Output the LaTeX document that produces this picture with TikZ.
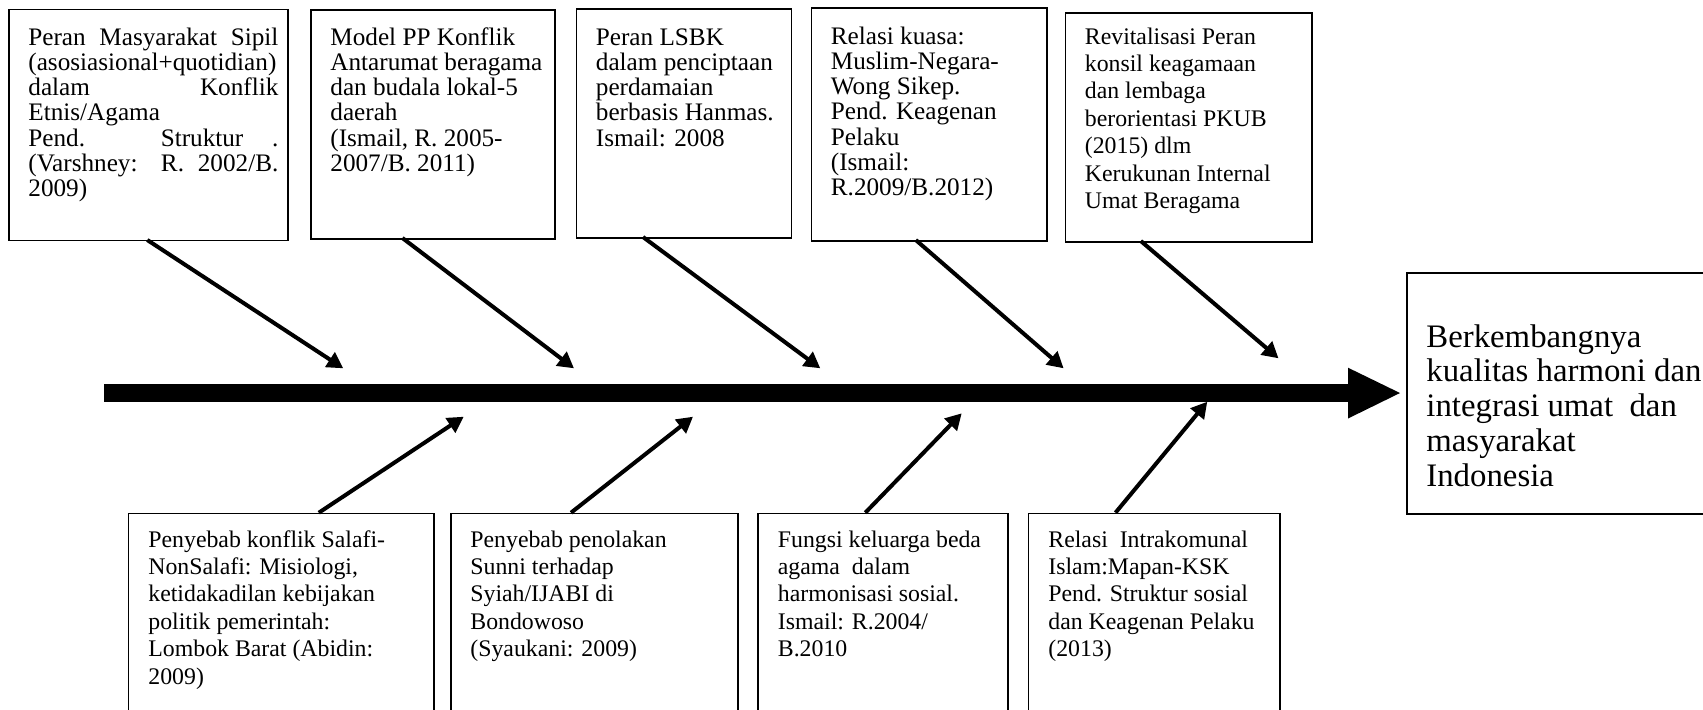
\documentclass[tikz,border=0pt]{standalone}
\usepackage{fontspec}
\setmainfont{Liberation Serif}
\usetikzlibrary{arrows.meta}
\begin{document}
\begin{tikzpicture}[x=0.5pt,y=-0.5pt,
  box/.style={draw=black, line width=0.75pt, fill=white, inner sep=0pt, anchor=north west},
  txt/.style={anchor=base west, inner sep=0pt},
  fish/.style={line width=2pt, -{Triangle[length=8pt,width=8.5pt]}},
  spine/.style={line width=8.8pt},
  tfont/.style={font=\fontsize{12.6}{12.65}\selectfont},
  bfont/.style={font=\fontsize{11.9}{13.7}\selectfont},
  rfont/.style={font=\fontsize{16.4}{17.4}\selectfont},
]
\useasboundingbox (0,0) rectangle (1703,709);
% top boxes
\node[box, minimum width=139.5pt, minimum height=115.5pt] (b1) at (8.3,8.5) {};
\node[box, minimum width=122pt, minimum height=114.5pt] (b2) at (310,9) {};
\node[box, minimum width=107.5pt, minimum height=114.5pt] (b3) at (575.5,8) {};
\node[box, minimum width=117.75pt, minimum height=116.5pt] (b4) at (810.5,7) {};
\node[box, minimum width=123.25pt, minimum height=114.5pt] (b5) at (1064.5,12) {};
% right box
\node[box, minimum width=160pt, minimum height=120.5pt] (rb) at (1406,272) {};
% bottom boxes
\node[box, minimum width=152.8pt, minimum height=110pt] (c1) at (127.5,512.7) {};
\node[box, minimum width=143.3pt, minimum height=110pt] (c2) at (450.4,512.7) {};
\node[box, minimum width=125pt, minimum height=110pt] (c3) at (757,512.7) {};
\node[box, minimum width=125.75pt, minimum height=110pt] (c4) at (1027.5,512.7) {};

% texts
\node[txt, tfont] (t1) at (28,45) {\parbox[t]{125pt}{%
\makebox[\linewidth][s]{Peran Masyarakat Sipil}\\
(asosiasional+quotidian)\\
\makebox[\linewidth][s]{dalam Konflik}\\
Etnis/Agama\\
\makebox[\linewidth][s]{Pend. Struktur .}\\
\makebox[\linewidth][s]{(Varshney: R. 2002/B.}\\
2009)}};
\node[txt, tfont] (t2) at (330,45) {\parbox[t]{115pt}{%
Model PP Konflik\\
Antarumat beragama\\
dan budala lokal-5\\
daerah\\
(Ismail, R. 2005-\\
2007/B. 2011)}};
\node[txt, tfont] (t3) at (595.5,45) {\parbox[t]{100pt}{%
Peran LSBK\\
dalam penciptaan\\
perdamaian\\
berbasis Hanmas.\\
Ismail: 2008}};
\node[txt, tfont] (t4) at (830.5,44) {\parbox[t]{110pt}{%
Relasi kuasa:\\
Muslim-Negara-\\
Wong Sikep.\\
Pend. Keagenan\\
Pelaku\\
(Ismail:\\
R.2009/B.2012)}};
\node[txt, bfont] (t5) at (1084.5,44) {\parbox[t]{110pt}{%
Revitalisasi Peran\\
konsil keagamaan\\
dan lembaga\\
berorientasi PKUB\\
(2015) dlm\\
Kerukunan Internal\\
Umat Beragama}};
\node[txt, rfont] (tr) at (1426,347) {\parbox[t]{150pt}{%
Berkembangnya\\
kualitas harmoni dan\\
integrasi umat\ \ dan\\
masyarakat\\
Indonesia}};
\node[txt, bfont] (u1) at (148,547) {\parbox[t]{140pt}{%
Penyebab konflik Salafi-\\
NonSalafi: Misiologi,\\
ketidakadilan kebijakan\\
politik pemerintah:\\
Lombok Barat (Abidin:\\
2009)}};
\node[txt, bfont] (u2) at (470,547) {\parbox[t]{130pt}{%
Penyebab penolakan\\
Sunni terhadap\\
Syiah/IJABI di\\
Bondowoso\\
(Syaukani: 2009)}};
\node[txt, bfont] (u3) at (777.5,547) {\parbox[t]{115pt}{%
Fungsi keluarga beda\\
agama\ \ dalam\\
harmonisasi sosial.\\
Ismail: R.2004/\\
B.2010}};
\node[txt, bfont] (u4) at (1048,547) {\parbox[t]{115pt}{%
Relasi\ \ Intrakomunal\\
Islam:Mapan-KSK\\
Pend. Struktur sosial\\
dan Keagenan Pelaku\\
(2013)}};

% spine
\coordinate (sp0) at (104,393);
\coordinate (sp1) at (1349,393);
\coordinate (spT) at (1400,393);
\draw[spine] (sp0) -- (sp1);
\fill (1348,367.7) -- (spT) -- (1348,418.5) -- cycle;

% top arrows
\coordinate (s1) at (147.3,240);  \coordinate (e1) at (343.3,368.3);
\coordinate (s2) at (402.4,238);  \coordinate (e2) at (574,368.3);
\coordinate (s3) at (643,237);    \coordinate (e3) at (820.3,368.3);
\coordinate (s4) at (915.8,240);  \coordinate (e4) at (1063.6,368.3);
\coordinate (s5) at (1140.8,241); \coordinate (e5) at (1278.5,358.3);
\draw[fish] (s1) -- (e1);
\draw[fish] (s2) -- (e2);
\draw[fish] (s3) -- (e3);
\draw[fish] (s4) -- (e4);
\draw[fish] (s5) -- (e5);
% bottom arrows
\coordinate (f1) at (318.8,512.7);  \coordinate (g1) at (463.7,416.7);
\coordinate (f2) at (571,512.7);    \coordinate (g2) at (693,416.7);
\coordinate (f3) at (865.3,512.7);  \coordinate (g3) at (961.7,413.3);
\coordinate (f4) at (1115.5,512.7); \coordinate (g4) at (1207.3,401.7);
\draw[fish] (f1) -- (g1);
\draw[fish] (f2) -- (g2);
\draw[fish] (f3) -- (g3);
\draw[fish] (f4) -- (g4);
\end{tikzpicture}
\end{document}
